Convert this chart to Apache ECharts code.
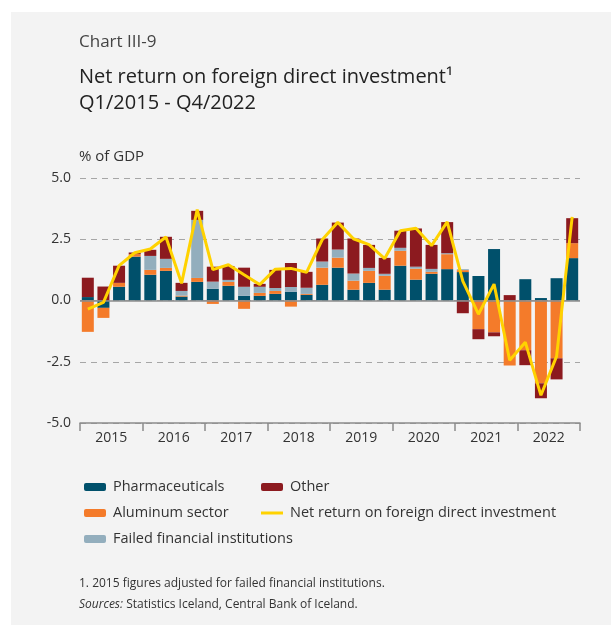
<!DOCTYPE html>
<html lang="en">
<head>
    <meta charset="UTF-8">
    <title>Chart III-9</title>
    <style>
        html, body { margin: 0; padding: 0; background: #fff; }
        #chart { width: 611px; height: 625px; }
    </style>
</head>
<body>
<div id="chart"></div>
<script src="https://cdn.jsdelivr.net/npm/echarts@6/dist/echarts.min.js"></script>
<script>
    // quarters Q1/2015 - Q4/2022
    var quarters = [];
    var years = ['2015', '2016', '2017', '2018', '2019', '2020', '2021', '2022'];
    years.forEach(function (y) {
        for (var q = 1; q <= 4; q++) quarters.push('Q' + q + '/' + y);
    });

    var pharma = [0.14, -0.30, 0.56, 1.79, 1.05, 1.21, 0.16, 0.76, 0.48, 0.60, 0.19, 0.19, 0.27, 0.35, 0.23, 0.64,
        1.34, 0.44, 0.72, 0.44, 1.42, 0.85, 1.09, 1.28, 1.16, 1.00, 2.10, 0, 0.87, 0.10, 0.91, 1.73];
    var aluminum = [-1.28, -0.41, 0.16, 0.10, 0.20, 0.12, 0.04, 0.16, -0.14, 0.16, -0.34, 0.12, 0.12, -0.25, 0.04, 0.70,
        0.41, 0.37, 0.49, 0.57, 0.61, 0.45, 0.08, 0.61, 0.08, -1.17, -1.30, -2.65, -2.03, -3.38, -2.36, 0.61];
    var failed = [0, 0, 0, 0, 0.57, 0.37, 0.19, 2.37, 0.29, 0.08, 0.37, 0.25, 0.12, 0.20, 0.25, 0.25,
        0.33, 0.29, 0.12, 0.08, 0.12, 0.08, 0.12, 0.04, 0.04, 0, 0, 0, 0, 0, 0, 0];
    var other = [0.79, 0.57, 0.70, 0.07, 0.25, 0.90, 0.33, 0.37, 0.61, 0.57, 0.78, 0.12, 0.74, 0.98, 0.65, 0.94,
        1.10, 1.43, 0.94, 0.65, 0.70, 1.56, 0.98, 1.27, -0.52, -0.41, -0.16, 0.22, -0.61, -0.61, -0.86, 1.02];
    var netReturn = [-0.35, -0.08, 1.42, 1.95, 2.10, 2.59, 0.70, 3.71, 1.26, 1.46, 1.05, 0.65, 1.28, 1.31, 1.15, 2.48,
        3.19, 2.52, 2.28, 1.71, 2.85, 2.95, 2.24, 3.21, 0.79, -0.56, 0.67, -2.44, -1.70, -3.87, -2.28, 3.41];

    var font = 'Open Sans';
    var txt = '#333';

    var chart = echarts.init(document.getElementById('chart'));

    function bar(name, data, color) {
        return {
            name: name, type: 'bar', stack: 'fdi', data: data,
            xAxisIndex: 0, barWidth: 12,
            itemStyle: {color: color},
            emphasis: {disabled: true}
        };
    }

    function legend(top, names, itemHeight, icon) {
        var l = {
            left: 79, top: top, orient: 'vertical', itemWidth: 22, itemHeight: itemHeight, itemGap: 8,
            selectedMode: false,
            textStyle: {color: txt, fontSize: 14.5, lineHeight: 18, padding: [0, 0, 0, 2]},
            data: names
        };
        if (icon) l.icon = icon;
        return l;
    }

    var barPharma = bar('Pharmaceuticals', pharma, '#00506b');
    // solid zero line
    barPharma.markLine = {
        silent: true, symbol: 'none', label: {show: false},
        lineStyle: {color: '#8c8c8c', type: 'solid', width: 1.5},
        data: [{yAxis: 0}]
    };

    var legOther = legend(473, ['Other'], 8);
    legOther.left = 256;
    var legNet = legend(499, ['Net return on foreign direct investment'], 3, 'rect');
    legNet.left = 256;

    chart.setOption({
        backgroundColor: '#fff',
        textStyle: {fontFamily: font},
        animation: false,
        graphic: [
            {type: 'rect', z: -10, shape: {x: 11, y: 12, width: 600, height: 613}, style: {fill: '#f3f3f3'}},
            {type: 'text', x: 79, y: 42, style: {text: 'Chart III-9', font: '17px "Open Sans"', fill: '#444', verticalAlign: 'middle'}},
            {type: 'text', x: 79, y: 77, style: {text: 'Net return on foreign direct investment¹', font: '20px "Open Sans"', fill: '#222', verticalAlign: 'middle'}},
            {type: 'text', x: 79, y: 103, style: {text: 'Q1/2015 - Q4/2022', font: '20px "Open Sans"', fill: '#222', verticalAlign: 'middle'}},
            {type: 'text', x: 79, y: 157, style: {text: '% of GDP', font: '15px "Open Sans"', fill: txt, verticalAlign: 'middle'}},
            {type: 'text', x: 79, y: 584, style: {text: '1. 2015 figures adjusted for failed financial institutions.', font: '12px "Open Sans"', fill: txt, verticalAlign: 'middle'}},
            {type: 'text', x: 79, y: 605, style: {
                text: '{i|Sources:} Statistics Iceland, Central Bank of Iceland.',
                font: '12px "Open Sans"', fill: txt, verticalAlign: 'middle',
                rich: {i: {fontStyle: 'italic', fontFamily: font, fontSize: 12, fill: txt}}
            }}
        ],
        legend: [
            legend(473, ['Pharmaceuticals', 'Aluminum sector', 'Failed financial institutions'], 8),
            legOther,
            legNet
        ],
        grid: {left: 80, right: 31, top: 178, bottom: 202},
        xAxis: [
            {
                type: 'category', data: quarters, show: false, position: 'top'
            },
            {
                type: 'category', data: years, position: 'bottom',
                axisLine: {show: true, onZero: false, lineStyle: {color: '#8c8c8c', width: 1.5}},
                axisTick: {show: true, interval: 0, length: 8, lineStyle: {color: '#8c8c8c', width: 1.5}},
                axisLabel: {color: txt, fontSize: 14, margin: 8},
                splitLine: {show: false}
            }
        ],
        yAxis: {
            type: 'value', min: -5, max: 5, interval: 2.5,
            axisLine: {show: false}, axisTick: {show: false},
            axisLabel: {color: txt, fontSize: 14, margin: 9, formatter: function (v) { return v.toFixed(1); }},
            splitLine: {lineStyle: {color: '#a6a6a6', type: [6, 5], width: 1}}
        },
        series: [
            barPharma,
            bar('Aluminum sector', aluminum, '#f47b2a'),
            bar('Failed financial institutions', failed, '#93aebd'),
            bar('Other', other, '#8c1a1f'),
            {
                name: 'Net return on foreign direct investment', type: 'line', data: netReturn,
                xAxisIndex: 0, symbol: 'none', z: 5,
                lineStyle: {color: '#ffd200', width: 3},
                itemStyle: {color: '#ffd200'},
                emphasis: {disabled: true}
            }
        ]
    });
</script>
</body>
</html>
